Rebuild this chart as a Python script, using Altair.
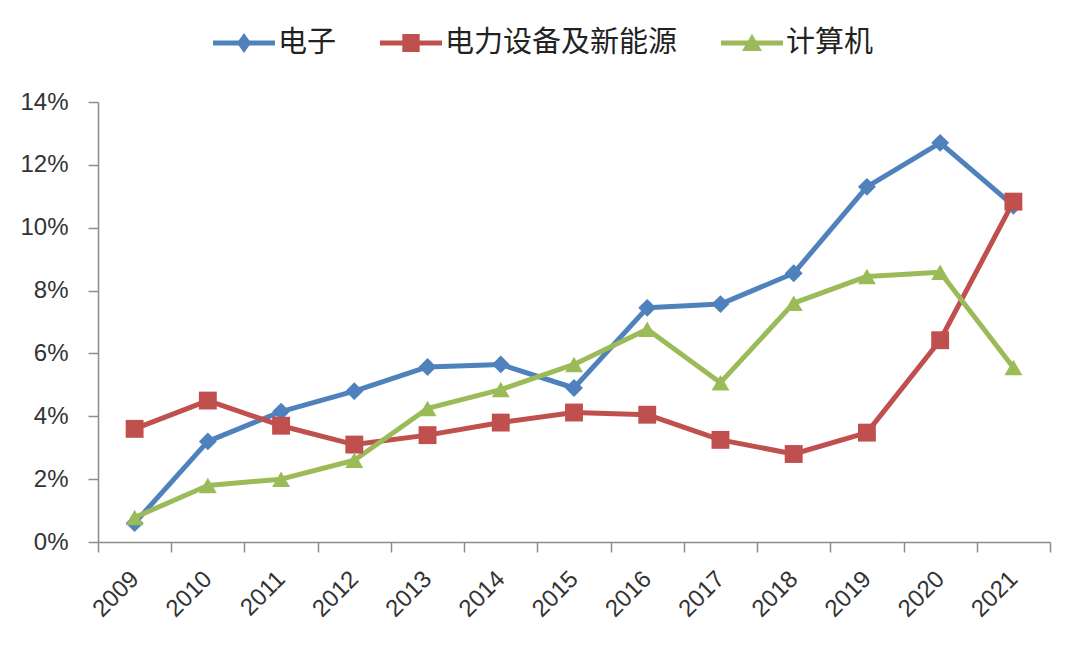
import altair as alt
import pandas as pd

years = list(range(2009, 2022))
series_names = ["电子", "电力设备及新能源", "计算机"]
electronics = [0.6, 3.2, 4.15, 4.8, 5.57, 5.65, 4.9, 7.45, 7.57, 8.55, 11.3, 12.7, 10.7]
power = [3.6, 4.5, 3.7, 3.1, 3.4, 3.8, 4.12, 4.05, 3.25, 2.8, 3.48, 6.42, 10.83]
computer = [0.78, 1.8, 2.0, 2.6, 4.25, 4.85, 5.65, 6.77, 5.07, 7.6, 8.45, 8.58, 5.55]
colors = ["#4F81BD", "#C0504D", "#9BBB59"]
shapes = ["diamond", "square", "triangle-up"]
legend_paths = [
    "M-1,-0.08H1V0.08H-1Z M0,-0.32L0.23,0L0,0.32L-0.23,0Z",
    "M-1,-0.08H1V0.08H-1Z M-0.28,-0.29H0.28V0.29H-0.28Z",
    "M-1,-0.08H1V0.08H-1Z M0,-0.3L0.32,0.26H-0.32Z",
]
y_ticks = [0, 2, 4, 6, 8, 10, 12, 14]

rows = []
for k, (name, vals) in enumerate(zip(series_names, [electronics, power, computer])):
    for yr, v in zip(years, vals):
        rows.append({"year": yr, "value": v, "series": name, "key": name, "order": k})
df = pd.DataFrame(rows)

x_values = years + [y - 0.5 for y in years] + [years[-1] + 0.5]


def make_legend():
    return alt.Legend(
        title=None,
        orient="none",
        legendX=115,
        legendY=-90,
        direction="horizontal",
        symbolSize=3844,
        symbolStrokeWidth=0,
        symbolOpacity=1,
        labelFont="Noto Sans CJK SC",
        labelFontSize=29,
        labelColor="#222222",
        labelOffset=3,
        columnPadding=43,
        padding=0,
        labelLimit=500,
    )


x = alt.X(
    "year:Q",
    scale=alt.Scale(domain=[2008.5, 2021.5], nice=False, zero=False),
    axis=alt.Axis(
        title=None,
        values=x_values,
        labelExpr="datum.value % 1 == 0 ? '' + datum.value : ''",
        labelAngle=-45,
        labelAlign="right",
        labelBaseline="middle",
        labelPadding=23,
        labelFont="Liberation Sans",
        labelFontSize=24,
        labelColor="#333333",
        labelOverlap=False,
        tickSize=10,
        tickColor="#8c8c8c",
        tickWidth=1.5,
        tickOpacity={"condition": {"test": "datum.value % 1 == 0", "value": 0}, "value": 1},
        domainColor="#8c8c8c",
        domainWidth=1.5,
        grid=False,
    ),
)

y = alt.Y(
    "value:Q",
    scale=alt.Scale(domain=[0, 14], nice=False),
    axis=alt.Axis(
        title=None,
        values=y_ticks,
        labelExpr="datum.value + '%'",
        labelFont="Liberation Sans",
        labelFontSize=24,
        labelColor="#333333",
        labelPadding=20,
        tickSize=10,
        tickColor="#8c8c8c",
        tickWidth=1.5,
        domainColor="#8c8c8c",
        domainWidth=1.5,
        grid=False,
    ),
)

lines = alt.Chart(df).mark_line(strokeWidth=5, strokeJoin="round").encode(
    x=x,
    y=y,
    color=alt.Color("series:N", scale=alt.Scale(domain=series_names, range=colors), legend=None),
    detail="series:N",
)

point_layers = []
for name, shp, col in zip(series_names, shapes, colors):
    point_layers.append(
        alt.Chart(df)
        .transform_filter(alt.datum.series == name)
        .mark_point(filled=True, size=320, opacity=1, shape=shp, color=col)
        .encode(x=x, y=y)
    )

legend_layer = alt.Chart(df).mark_point(filled=True, opacity=0).encode(
    x=x,
    y=y,
    fill=alt.Fill("key:N", scale=alt.Scale(domain=series_names, range=colors), legend=make_legend()),
    shape=alt.Shape(
        "key:N",
        scale=alt.Scale(domain=series_names, range=legend_paths),
        legend=make_legend(),
    ),
)

chart = (
    alt.layer(lines, *point_layers, legend_layer)
    .resolve_scale(color="independent", fill="independent", shape="independent")
    .properties(
        width=952,
        height=440,
        autosize=alt.AutoSizeParams(type="none"),
        padding={"left": 90, "top": 94, "right": 22, "bottom": 96},
        background="white",
    )
    .configure_view(stroke=None)
)

chart.save("out.html", embed_options={"renderer": "svg", "actions": False})
